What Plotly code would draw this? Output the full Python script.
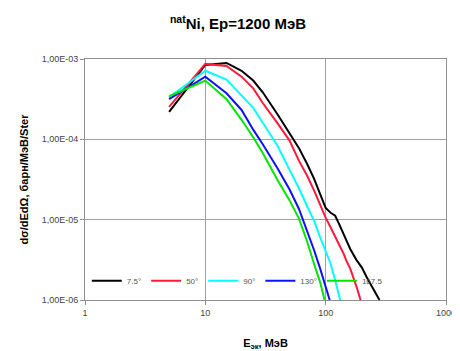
import plotly.graph_objects as go

# Energies (MeV) and cross sections (barn/MeV/sr) per angle
e_7_5 = [5, 10, 15, 20, 25, 30, 40, 50, 60, 70, 80, 90, 100, 110, 120, 130, 140, 150, 160, 180, 200, 220, 250, 280]
s_7_5 = [2.20e-4, 8.45e-4, 8.94e-4, 7.14e-4, 5.39e-4, 3.85e-4, 2.02e-4, 1.22e-4, 7.77e-5, 4.96e-5, 3.25e-5,
         2.08e-5, 1.40e-5, 1.22e-5, 1.12e-5, 8.69e-6, 6.75e-6, 5.24e-6, 4.31e-6, 3.16e-6, 2.53e-6, 1.91e-6,
         1.36e-6, 1.0e-6]

e_50 = [5, 10, 15, 20, 25, 30, 40, 50, 60, 70, 80, 90, 100, 110, 120, 130, 140, 150, 160, 180, 195]
s_50 = [2.53e-4, 8.69e-4, 8.21e-4, 6.03e-4, 4.31e-4, 2.83e-4, 1.57e-4, 9.72e-5, 5.39e-5, 3.54e-5, 2.32e-5,
        1.52e-5, 1.06e-5, 7.99e-6, 6.2e-6, 4.96e-6, 3.85e-6, 2.99e-6, 2.46e-6, 1.48e-6, 1.0e-6]

e_90 = [5, 10, 15, 20, 25, 30, 40, 50, 60, 70, 80, 90, 100, 110, 120, 132]
s_90 = [3.34e-4, 7.14e-4, 5.54e-4, 3.54e-4, 2.46e-4, 1.61e-4, 8.21e-5, 4.19e-5, 2.46e-5, 1.48e-5, 9.72e-6,
        6.03e-6, 4.07e-6, 2.83e-6, 1.75e-6, 1.0e-6]

e_130 = [5, 10, 15, 20, 25, 30, 40, 50, 60, 70, 80, 90, 100, 108]
s_130 = [3.16e-4, 6.03e-4, 3.74e-4, 2.32e-4, 1.32e-4, 8.69e-5, 4.31e-5, 2.39e-5, 1.36e-5, 7.34e-6, 4.19e-6,
         2.46e-6, 1.44e-6, 1.0e-6]

e_167_5 = [5, 10, 15, 20, 25, 30, 40, 50, 60, 70, 80, 90, 98]
s_167_5 = [3.44e-4, 5.39e-4, 3.16e-4, 1.75e-4, 1.06e-4, 6.75e-5, 3.07e-5, 1.75e-5, 1.03e-5, 5.39e-6, 2.83e-6,
           1.66e-6, 1.0e-6]

series_names = ["7.5°", "50°", "90°", "130°", "167.5"]
series_colors = ["#000000", "#ff1a3c", "#00ffff", "#1010ff", "#00e600"]
series_x = [e_7_5, e_50, e_90, e_130, e_167_5]
series_y = [s_7_5, s_50, s_90, s_130, s_167_5]

x_tick_vals = [1, 10, 100, 1000]
x_tick_text = ["1", "10", "100", "1000"]
y_tick_vals = [1e-6, 1e-5, 1e-4, 1e-3]
y_tick_text = ["1,00E-06", "1,00E-05", "1,00E-04", "1,00E-03"]

fig = go.Figure()
for name, col, xs, ys in zip(series_names, series_colors, series_x, series_y):
    fig.add_trace(go.Scatter(x=xs, y=ys, mode="lines", name=name,
                             line=dict(color=col, width=2)))

fig.update_layout(
    width=460, height=351,
    margin=dict(l=77, r=13, t=51, b=54),
    paper_bgcolor="white", plot_bgcolor="white",
    font=dict(family="Liberation Sans, Arial, sans-serif", color="#333333"),
    title=dict(text="<sup>nat</sup>Ni, Ep=1200 МэВ", x=0.5, xanchor="center",
               y=0.955, yanchor="middle",
               font=dict(size=15, color="#000000", family="Liberation Sans, Arial, sans-serif", weight="bold")),
    showlegend=True,
    legend=dict(orientation="h", x=0.005, y=0.02, xanchor="left", yanchor="bottom",
                bgcolor="rgba(255,255,255,0)", font=dict(size=8, color="#555555"),
                itemwidth=30, tracegroupgap=0),
    xaxis=dict(type="log", range=[0, 3], tickvals=x_tick_vals, ticktext=x_tick_text,
               showgrid=True, gridcolor="#a0a0a0", gridwidth=1,
               showline=True, linecolor="#909090", linewidth=1, mirror=True,
               ticks="outside", ticklen=4, tickcolor="#909090",
               tickfont=dict(size=9, color="#444444"),
               title=dict(text="E<sub>эк</sub>, МэВ", standoff=22,
                          font=dict(size=11, color="#000000", weight="bold"))),
    yaxis=dict(type="log", range=[-6, -3], tickvals=y_tick_vals, ticktext=y_tick_text,
               showgrid=True, gridcolor="#a0a0a0", gridwidth=1,
               showline=True, linecolor="#909090", linewidth=1, mirror=True,
               ticks="outside", ticklen=4, tickcolor="#909090",
               tickfont=dict(size=9, color="#444444"),
               title=dict(text="dσ/dEdΩ, барн/МэВ/Ster", standoff=10,
                          font=dict(size=11, color="#000000", weight="bold"))),
)

fig.write_html("out.html")
